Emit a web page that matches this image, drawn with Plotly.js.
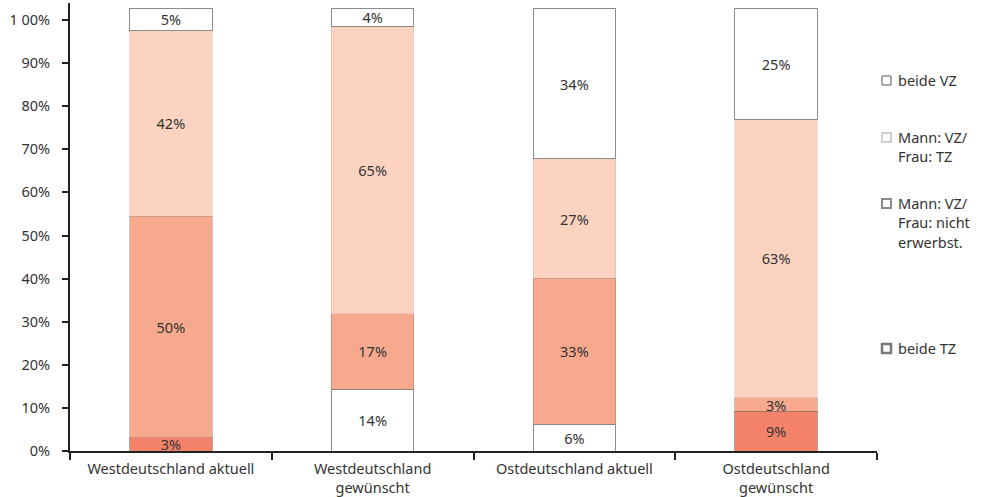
<!DOCTYPE html>
<html>
<head>
<meta charset="utf-8">
<script src="https://cdn.plot.ly/plotly-3.0.1.min.js"></script>
<style>html,body{margin:0;padding:0;background:#fff;}#chart{width:987px;height:497px;}</style>
</head>
<body>
<div id="chart"></div>
<script>
// Categories (x axis)
var categories = ["Westdeutschland aktuell", "Westdeutschland<br>gewünscht", "Ostdeutschland aktuell", "Ostdeutschland<br>gewünscht"];

// Stacked segments, bottom to top (percent labels as printed)
var seg1 = [3, 14, 6, 9];
var seg2 = [50, 17, 33, 3];
var seg3 = [42, 65, 27, 63];
var seg4 = [5, 4, 34, 25];

// Segment colour keys per bar
var seg1Colors = ["dark", "white", "white", "dark"];
var seg2Colors = ["salmon", "salmon", "salmon", "salmon"];
var seg3Colors = ["peach", "peach", "peach", "peach"];
var seg4Colors = ["white", "white", "white", "white"];

// Y tick labels
var yTickLabels = ["0%", "10%", "20%", "30%", "40%", "50%", "60%", "70%", "80%", "90%", "1 00%"];

// Legend labels (lines)
var legendItems = [
  ["beide VZ"],
  ["Mann: VZ/", "Frau: TZ"],
  ["Mann: VZ/", "Frau: nicht", "erwerbst."],
  ["beide TZ"]
];

var FONT = "Noto Sans, Open Sans, sans-serif";
var FS = 14.5;

var palette = {dark: "#F4836A", salmon: "#F7A98D", peach: "#FCD3C1", white: "#FFFFFF"};
var lineCol = {dark: "rgba(110,90,80,0.55)", salmon: "rgba(150,120,110,0.45)", peach: "rgba(200,170,160,0.35)", white: "#8c8c8c"};

// printed 100% corresponds to slightly more than the 100% gridline in the original
var scale = 1.027;
var tickVals = yTickLabels.map(function(_, i){ return i * 10 / scale; });

function mk(vals, keys){
  return {
    type: "bar",
    x: categories,
    y: vals,
    text: vals.map(function(v){ return v + "%"; }),
    textposition: "inside",
    insidetextanchor: "middle",
    textangle: 0,
    constraintext: "none",
    textfont: {family: FONT, size: FS, color: "#333"},
    marker: {
      color: keys.map(function(k){ return palette[k]; }),
      line: {color: keys.map(function(k){ return lineCol[k]; }), width: 1}
    },
    width: 0.41,
    hoverinfo: "skip",
    showlegend: false
  };
}

var data = [mk(seg1, seg1Colors), mk(seg2, seg2Colors), mk(seg3, seg3Colors), mk(seg4, seg4Colors)];

// legend (annotations + square shapes), placed at right of plot
var legendTop = [80, 137, 203, 348]; // pixel y centres of first lines
var lineH = 19.3;
var annotations = [];
var shapes = [];
var legendBoxStyle = [
  {c: "#555", w: 1},
  {c: "#cfcfcf", w: 2},
  {c: "#8a8a8a", w: 2},
  {c: "#777", w: 2.5}
];
var H = 497, T = 3, B = 46, L = 70, R = 110, W = 987;
var ph = H - T - B, pw = W - L - R;
function py(pix){ return 1 - (pix - T) / ph; }
function px(pix){ return (pix - L) / pw; }
legendItems.forEach(function(lines, i){
  lines.forEach(function(t, j){
    annotations.push({
      xref: "paper", yref: "paper",
      x: px(896), y: py(legendTop[i] + j * lineH),
      xanchor: "left", yanchor: "middle",
      text: t, showarrow: false,
      font: {family: FONT, size: FS, color: "#333"}
    });
  });
  shapes.push({
    type: "rect", xref: "paper", yref: "paper",
    x0: px(882), x1: px(891), y0: py(legendTop[i] + 5), y1: py(legendTop[i] - 4),
    line: {color: legendBoxStyle[i].c, width: legendBoxStyle[i].w},
    fillcolor: "#fff"
  });
});

var layout = {
  width: 987, height: 497,
  margin: {l: L, r: R, t: T, b: B, pad: 0},
  paper_bgcolor: "#fff", plot_bgcolor: "#fff",
  barmode: "stack",
  font: {family: FONT, size: FS, color: "#333"},
  xaxis: {
    type: "category",
    showline: true, linecolor: "#222", linewidth: 2,
    ticks: "outside", tickson: "boundaries", ticklen: 7, tickwidth: 2, tickcolor: "#222",
    showgrid: false, zeroline: false,
    tickfont: {family: FONT, size: FS, color: "#333"},
    ticklabelstandoff: 4,
    fixedrange: true
  },
  yaxis: {
    range: [0, 448 / 4.426],
    showline: true, linecolor: "#222", linewidth: 2,
    ticks: "outside", ticklen: 6, tickwidth: 2, tickcolor: "#222",
    tickvals: tickVals, ticktext: yTickLabels,
    showgrid: false, zeroline: false,
    tickfont: {family: FONT, size: FS, color: "#333"},
    ticklabelstandoff: 9,
    fixedrange: true
  },
  annotations: annotations,
  shapes: shapes
};

Plotly.newPlot("chart", data, layout, {displayModeBar: false, staticPlot: true});
</script>
</body>
</html>
